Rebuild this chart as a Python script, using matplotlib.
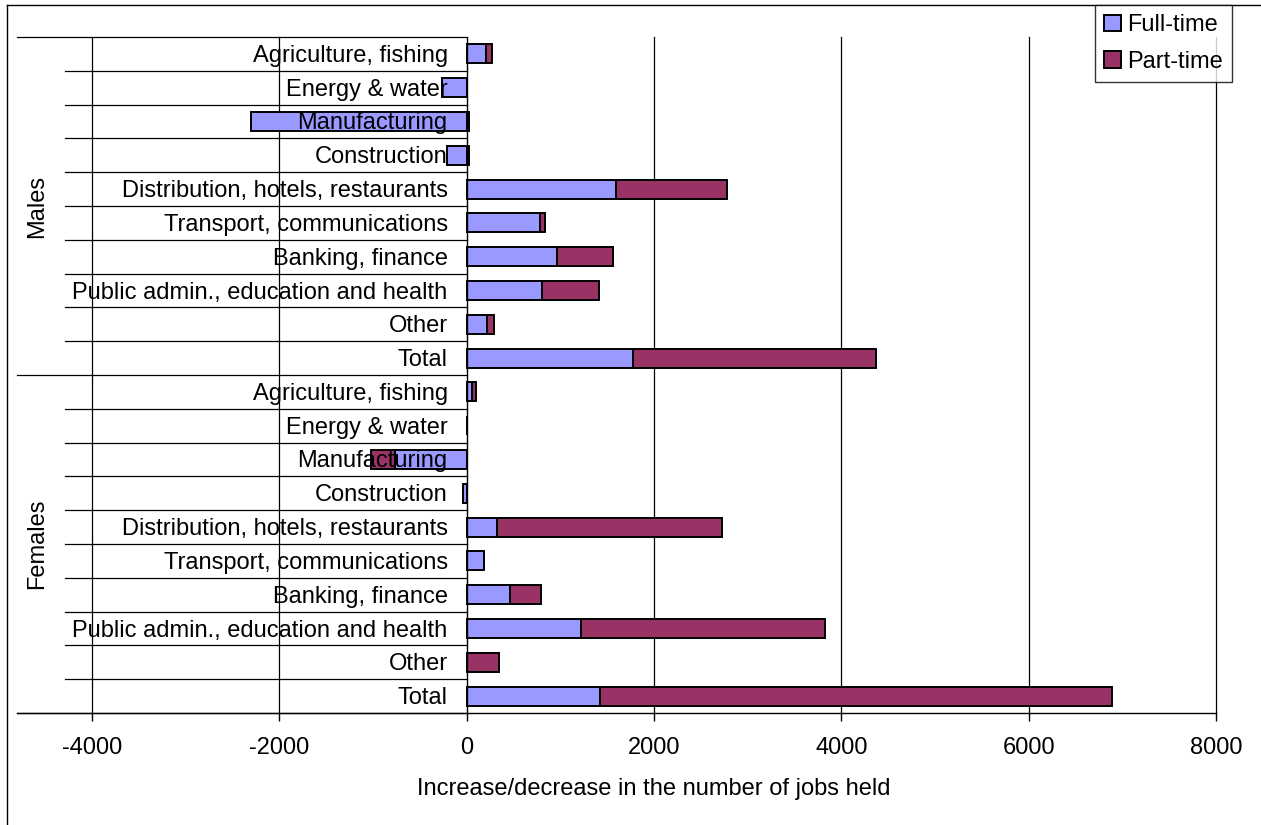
import matplotlib
matplotlib.use("Agg")
import matplotlib.pyplot as plt
import matplotlib.transforms as mtransforms
import numpy as np

plt.rcParams['font.family'] = ['Liberation Sans', 'DejaVu Sans']
plt.rcParams['axes.unicode_minus'] = False

# data (number of jobs)
industries = ["Agriculture, fishing", "Energy & water", "Manufacturing", "Construction",
              "Distribution, hotels, restaurants", "Transport, communications",
              "Banking, finance", "Public admin., education and health", "Other", "Total"]
groups = ["Males", "Females"]
males_ft = [205, -260, -2300, -215, 1590, 787, 968, 801, 214, 1773]
males_pt = [65, 0, 25, 25, 1185, 53, 590, 612, 78, 2598]
females_ft = [55, 0, -760, -35, 327, 184, 459, 1217, 0, 1428]
females_pt = [40, 0, -260, 0, 2400, 0, 330, 2613, 346, 5458]
xticks = [-4000, -2000, 0, 2000, 4000, 6000, 8000]

ft_col = '#9999FF'
pt_col = '#993366'
fs = 17

W, H = 1261, 825
fig = plt.figure(figsize=(W / 100, H / 100), dpi=100)
ax = fig.add_axes([92 / W, 1 - 713 / H, (1216 - 92) / W, (713 - 37) / H])

ft = np.array(males_ft + females_ft, dtype=float)
pt = np.array(males_pt + females_pt, dtype=float)
labels = industries + industries
n = len(labels)
y = np.arange(n)[::-1]  # first row on top

# excel-style stacking: positives and negatives stack separately
pt_left = np.where(pt >= 0, np.maximum(ft, 0), np.minimum(ft, 0))
bh = 0.56
ax.barh(y, ft, height=bh, color=ft_col, edgecolor='black', lw=1.4, label='Full-time', zorder=3)
ax.barh(y, pt, left=pt_left, height=bh, color=pt_col, edgecolor='black', lw=1.4, label='Part-time', zorder=3)

ax.set_xlim(-4000, 8000)
ax.set_ylim(-0.5, n - 0.5)
for s in ax.spines.values():
    s.set_visible(False)
ax.set_yticks([])
ax.set_xticks(xticks)
ax.tick_params(axis='x', length=6, width=1, direction='out', labelsize=fs, pad=11, colors='black')
ax.set_xlabel('Increase/decrease in the number of jobs held', fontsize=fs, labelpad=14)

# vertical gridlines
for t in xticks:
    if t != 0:
        ax.axvline(t, color='black', lw=0.9, zorder=1, clip_on=False)
ax.axvline(0, color='black', lw=1.0, zorder=4)

trans = mtransforms.blended_transform_factory(ax.transAxes, ax.transData)
x0 = ax.transLimits.transform((0, 0))[0]  # axes fraction of zero
left_inner = (65 - 92) / (1216 - 92)
left_outer = (17 - 92) / (1216 - 92)

# row separators and category labels
for i in range(n + 1):
    yy = n - 0.5 - i
    outer = i % 10 == 0
    ax.plot([left_outer if outer else left_inner, x0], [yy, yy], transform=trans,
            color='black', lw=0.9, clip_on=False, zorder=2)
for yi, lab in zip(y, labels):
    ax.annotate(lab, xy=(0, yi), xytext=(-19, -2), textcoords='offset pixels',
                ha='right', va='center', fontsize=fs, zorder=5)

# group labels
for g, name in enumerate(groups):
    yc = n - 1 - (g * 10 + 4.5)
    ax.text((37 - 92) / (1216 - 92), yc, name, transform=trans, rotation=90,
            ha='center', va='center', fontsize=fs)

# bottom axis line
ax.plot([left_outer, 1], [-0.5, -0.5], transform=trans, color='black', lw=1, clip_on=False)

leg = fig.legend(loc='upper left', bbox_to_anchor=(1095 / W, 1 - 5 / H), fontsize=fs,
                 frameon=True, fancybox=False, edgecolor='black', handlelength=0.7,
                 handleheight=0.7, handletextpad=0.25, borderpad=0.4, labelspacing=0.6,
                 borderaxespad=0)
leg.get_frame().set_linewidth(1)

# chart border
fig.add_artist(plt.Line2D([7 / W, 7 / W], [0, 1 - 5 / H], color='black', lw=1))
fig.add_artist(plt.Line2D([7 / W, 1], [1 - 5 / H, 1 - 5 / H], color='black', lw=1))

fig.savefig('out.png', dpi=100)
